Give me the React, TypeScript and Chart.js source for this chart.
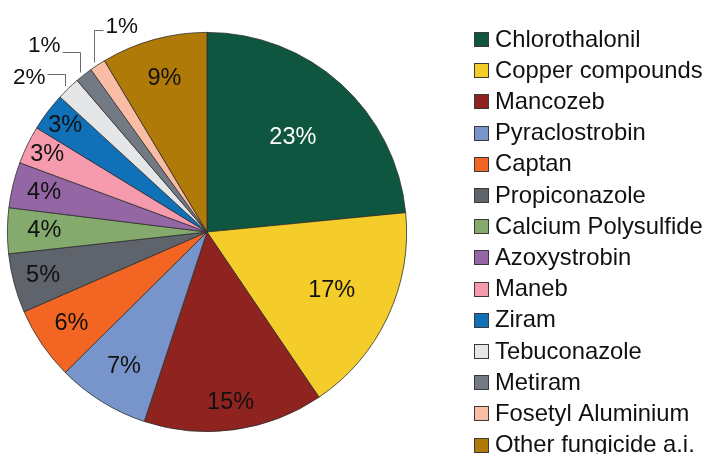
import React, { useEffect, useRef } from "react";
import { Chart, registerables } from "chart.js";

Chart.register(...registerables);

const categories = [
  "Chlorothalonil",
  "Copper compounds",
  "Mancozeb",
  "Pyraclostrobin",
  "Captan",
  "Propiconazole",
  "Calcium Polysulfide",
  "Azoxystrobin",
  "Maneb",
  "Ziram",
  "Tebuconazole",
  "Metiram",
  "Fosetyl Aluminium",
  "Other fungicide a.i.",
];

const shares = [23.5, 17.1, 14.6, 7.5, 5.9, 4.8, 3.7, 3.7, 3.1, 3.1, 1.9, 1.4, 1.3, 8.6];

const shareLabels = ["23%", "17%", "15%", "7%", "6%", "5%", "4%", "4%", "3%", "3%", "2%", "1%", "1%", "9%"];

const colors = [
  "#0f5641",
  "#f4cd2b",
  "#8f2320",
  "#7895cb",
  "#f26522",
  "#5f636b",
  "#84aa6e",
  "#9466a3",
  "#f59bad",
  "#1070b8",
  "#e5e6e8",
  "#747a83",
  "#f9bda5",
  "#b07a08",
];

const FONT = "'Liberation Sans', Arial, Helvetica, sans-serif";

// label placement (style, not data)
const LABEL_RADIUS: Record<number, number> = {
  0: 0.64, 1: 0.69, 2: 0.86, 3: 0.79, 4: 0.82, 5: 0.85, 6: 0.815, 7: 0.84, 8: 0.89, 9: 0.89, 13: 0.8,
};
const EXTERNAL: Record<number, { elbow: number; run: number; textDy: number }> = {
  10: { elbow: 0.79, run: -18, textDy: 3 },
  11: { elbow: 0.9, run: -18, textDy: -7 },
  12: { elbow: 1.013, run: 9, textDy: -4 },
};

const sliceLabelPlugin = {
  id: "sliceLabels",
  afterDatasetsDraw(chart: any) {
    const ctx = chart.ctx as CanvasRenderingContext2D;
    const meta = chart.getDatasetMeta(0);
    ctx.save();
    meta.data.forEach((arc: any, i: number) => {
      const { x, y, startAngle, endAngle, outerRadius } = arc.getProps(
        ["x", "y", "startAngle", "endAngle", "outerRadius"],
        true
      );
      const mid = (startAngle + endAngle) / 2;
      const ext = EXTERNAL[i];
      if (ext) {
        const px = Math.round(x + Math.cos(mid) * (outerRadius + 1)) - 2.5;
        const py = y + Math.sin(mid) * (outerRadius + 3);
        const ey = Math.round(y - ext.elbow * outerRadius) + 0.5;
        const ex = px + ext.run;
        ctx.strokeStyle = "#6b6b6b";
        ctx.lineWidth = 1;
        ctx.beginPath();
        ctx.moveTo(px, py);
        ctx.lineTo(px, ey);
        ctx.lineTo(ex, ey);
        ctx.stroke();
        ctx.font = `22.5px ${FONT}`;
        ctx.fillStyle = "#111";
        ctx.textAlign = ext.run < 0 ? "right" : "left";
        ctx.textBaseline = "middle";
        ctx.fillText(shareLabels[i], ex + (ext.run < 0 ? -2 : 2), ey + ext.textDy);
      } else {
        const rf = LABEL_RADIUS[i] ?? 0.8;
        const lx = x + Math.cos(mid) * outerRadius * rf;
        const ly = y + Math.sin(mid) * outerRadius * rf;
        ctx.font = `23.5px ${FONT}`;
        ctx.fillStyle = i === 0 ? "#ffffff" : "#111111";
        ctx.textAlign = "center";
        ctx.textBaseline = "middle";
        ctx.fillText(shareLabels[i], lx, ly);
      }
    });
    ctx.restore();
  },
};

const legendPlugin = {
  id: "customLegend",
  afterDraw(chart: any) {
    const ctx = chart.ctx as CanvasRenderingContext2D;
    ctx.save();
    const x0 = 474;
    const y0 = 39;
    const step = 31.2;
    categories.forEach((name, i) => {
      const cy = y0 + i * step;
      const by = Math.round(cy - 7) + 0.5;
      ctx.fillStyle = colors[i];
      ctx.fillRect(x0 + 0.5, by, 14, 14);
      ctx.strokeStyle = "#3a3a3a";
      ctx.lineWidth = 1;
      ctx.strokeRect(x0 + 0.5, by, 14, 14);
      ctx.font = `23.8px ${FONT}`;
      ctx.fillStyle = "#111";
      ctx.textAlign = "left";
      ctx.textBaseline = "middle";
      ctx.fillText(name, 495, cy + 1);
    });
    ctx.restore();
  },
};

export default function App() {
  const ref = useRef<HTMLCanvasElement | null>(null);
  useEffect(() => {
    if (!ref.current) return;
    const chart = new Chart(ref.current, {
      type: "pie",
      data: {
        labels: categories,
        datasets: [
          {
            data: shares,
            backgroundColor: colors,
            borderColor: "#2e2e2e",
            borderWidth: 0.8,
          },
        ],
      },
      options: {
        responsive: false,
        animation: false,
        layout: { padding: { left: 7, top: 32, right: 297, bottom: 22 } },
        plugins: {
          legend: { display: false },
          tooltip: { enabled: false },
        },
      },
      plugins: [sliceLabelPlugin, legendPlugin],
    });
    return () => chart.destroy();
  }, []);
  return (
    <div style={{ position: "absolute", left: 0, top: 0, width: 704, height: 454, background: "#fff" }}>
      <canvas ref={ref} width={704} height={454} style={{ display: "block" }} />
    </div>
  );
}
